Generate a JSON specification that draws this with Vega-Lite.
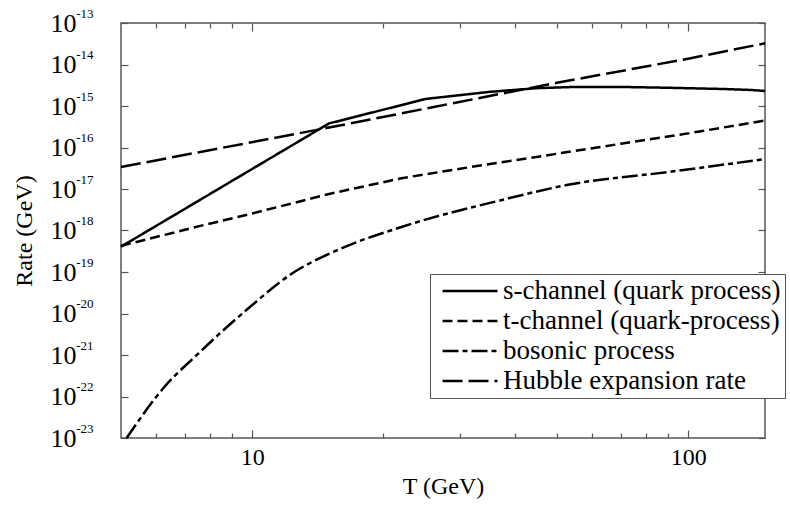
{
  "$schema": "https://vega.github.io/schema/vega-lite/v6.json",
  "width": 644,
  "height": 415,
  "autosize": {"type": "none"},
  "padding": {"left": 121, "top": 23, "right": 25, "bottom": 68},
  "background": "white",
  "config": {
    "font": "Liberation Serif",
    "view": {"stroke": "#555", "strokeWidth": 1.5},
    "axis": {
      "grid": false, "domain": false, "tickColor": "#555", "tickWidth": 1.2,
      "labelColor": "black", "titleColor": "black", "titleFontWeight": "normal",
      "labelFontSize": 24, "titleFontSize": 24,
      "labelFont": "Liberation Serif", "titleFont": "Liberation Serif"
    },
    "legend": {
      "orient": "none", "legendX": 309, "legendY": 251,
      "symbolType": "stroke", "symbolSize": 3025, "symbolStrokeWidth": 2.5,
      "symbolStrokeColor": "black", "labelFontSize": 27, "labelFont": "Liberation Serif",
      "labelColor": "black", "labelLimit": 600, "fillColor": "white", "strokeColor": "#555",
      "padding": 4, "symbolOffset": 7, "rowPadding": 3, "labelOffset": 4, "clipHeight": 26
    }
  },
  "data": {"values": [
    {"T": 5, "rate": 4.07e-19, "process": "s-channel (quark process)"},
    {"T": 15, "rate": 3.80e-16, "process": "s-channel (quark process)"},
    {"T": 25, "rate": 1.48e-15, "process": "s-channel (quark process)"},
    {"T": 35, "rate": 2.19e-15, "process": "s-channel (quark process)"},
    {"T": 45, "rate": 2.69e-15, "process": "s-channel (quark process)"},
    {"T": 55, "rate": 2.88e-15, "process": "s-channel (quark process)"},
    {"T": 70, "rate": 2.88e-15, "process": "s-channel (quark process)"},
    {"T": 90, "rate": 2.75e-15, "process": "s-channel (quark process)"},
    {"T": 120, "rate": 2.57e-15, "process": "s-channel (quark process)"},
    {"T": 140, "rate": 2.43e-15, "process": "s-channel (quark process)"},
    {"T": 150, "rate": 2.29e-15, "process": "s-channel (quark process)"},
    {"T": 5, "rate": 4.27e-19, "process": "t-channel (quark-process)"},
    {"T": 7.6, "rate": 1.29e-18, "process": "t-channel (quark-process)"},
    {"T": 10, "rate": 2.57e-18, "process": "t-channel (quark-process)"},
    {"T": 15, "rate": 7.59e-18, "process": "t-channel (quark-process)"},
    {"T": 22, "rate": 1.82e-17, "process": "t-channel (quark-process)"},
    {"T": 30, "rate": 3.09e-17, "process": "t-channel (quark-process)"},
    {"T": 50, "rate": 7.08e-17, "process": "t-channel (quark-process)"},
    {"T": 70, "rate": 1.23e-16, "process": "t-channel (quark-process)"},
    {"T": 100, "rate": 2.19e-16, "process": "t-channel (quark-process)"},
    {"T": 150, "rate": 4.47e-16, "process": "t-channel (quark-process)"},
    {"T": 5.15, "rate": 1.0e-23, "process": "bosonic process"},
    {"T": 6.25, "rate": 1.58e-22, "process": "bosonic process"},
    {"T": 7.6, "rate": 1.20e-21, "process": "bosonic process"},
    {"T": 8.5, "rate": 3.6e-21, "process": "bosonic process"},
    {"T": 10, "rate": 1.6e-20, "process": "bosonic process"},
    {"T": 12.2, "rate": 8.51e-20, "process": "bosonic process"},
    {"T": 15.7, "rate": 3.39e-19, "process": "bosonic process"},
    {"T": 21.9, "rate": 1.20e-18, "process": "bosonic process"},
    {"T": 37.2, "rate": 5.37e-18, "process": "bosonic process"},
    {"T": 53, "rate": 1.26e-17, "process": "bosonic process"},
    {"T": 90, "rate": 2.57e-17, "process": "bosonic process"},
    {"T": 150, "rate": 5.25e-17, "process": "bosonic process"},
    {"T": 5, "rate": 3.39e-17, "process": "Hubble expansion rate"},
    {"T": 15, "rate": 3.02e-16, "process": "Hubble expansion rate"},
    {"T": 50, "rate": 3.63e-15, "process": "Hubble expansion rate"},
    {"T": 100, "rate": 1.38e-14, "process": "Hubble expansion rate"},
    {"T": 150, "rate": 3.24e-14, "process": "Hubble expansion rate"}
  ]},
  "layer": [
    {
      "transform": [{"filter": "datum.process === 's-channel (quark process)'"}],
      "mark": {"type": "line", "color": "black", "strokeWidth": 2.5},
      "encoding": {
        "x": {"field": "T", "type": "quantitative",
          "scale": {"type": "log", "domain": [5, 150], "nice": false},
          "axis": {"orient": "bottom", "values": [10, 100], "tickSize": -8, "labelPadding": 15, "format": "d", "title": "T (GeV)", "titlePadding": 5, "labelFlush": false}},
        "y": {"field": "rate", "type": "quantitative",
          "scale": {"type": "log", "domain": [1e-23, 1e-13], "nice": false},
          "axis": {"orient": "left", "values": [1e-23, 1e-22, 1e-21, 1e-20, 1e-19, 1e-18, 1e-17, 1e-16, 1e-15, 1e-14, 1e-13],
            "tickSize": -7, "labelPadding": 52, "labelFontSize": 26, "labelFlush": false, "title": "Rate (GeV)", "titlePadding": 14,
            "labelExpr": "'10'"}},
        "strokeDash": {"field": "process", "type": "nominal",
          "scale": {"domain": ["s-channel (quark process)", "t-channel (quark-process)", "bosonic process", "Hubble expansion rate"],
            "range": [[1, 0], [10, 5], [16, 4, 5, 4], [20, 6]]},
          "legend": {"title": null}}
      }
    },
    {
      "transform": [{"filter": "datum.process === 't-channel (quark-process)'"}],
      "mark": {"type": "line", "color": "black", "strokeWidth": 2.5},
      "encoding": {
        "x": {"field": "T", "type": "quantitative",
          "axis": {"orient": "bottom", "values": [6, 7, 8, 9, 20, 30, 40, 50, 60, 70, 80, 90], "tickSize": -5, "labels": false, "title": null}},
        "y": {"field": "rate", "type": "quantitative",
          "axis": {"orient": "right", "values": [1e-23, 1e-22, 1e-21, 1e-20, 1e-19, 1e-18, 1e-17, 1e-16, 1e-15, 1e-14, 1e-13], "tickSize": -7, "labels": false, "title": null}},
        "strokeDash": {"field": "process", "type": "nominal", "legend": {"title": null}}
      }
    },
    {
      "transform": [{"filter": "datum.process === 'bosonic process'"}],
      "mark": {"type": "line", "color": "black", "strokeWidth": 2.5, "interpolate": "monotone"},
      "encoding": {
        "x": {"field": "T", "type": "quantitative",
          "axis": {"orient": "top", "values": [10, 100], "tickSize": -8, "labels": false, "title": null}},
        "y": {"field": "rate", "type": "quantitative",
          "axis": {"orient": "left", "values": [1e-23, 1e-22, 1e-21, 1e-20, 1e-19, 1e-18, 1e-17, 1e-16, 1e-15, 1e-14, 1e-13],
            "tickSize": 0, "labelPadding": 28, "labelFontSize": 13, "labelOffset": -10, "labelFlush": false, "title": null,
            "labelExpr": "'-' + (-round(log(datum.value)/LN10))"}},
        "strokeDash": {"field": "process", "type": "nominal", "legend": {"title": null}}
      }
    },
    {
      "transform": [{"filter": "datum.process === 'Hubble expansion rate'"}],
      "mark": {"type": "line", "color": "black", "strokeWidth": 2.5},
      "encoding": {
        "x": {"field": "T", "type": "quantitative",
          "axis": {"orient": "top", "values": [6, 7, 8, 9, 20, 30, 40, 50, 60, 70, 80, 90], "tickSize": -5, "labels": false, "title": null}},
        "y": {"field": "rate", "type": "quantitative", "axis": null},
        "strokeDash": {"field": "process", "type": "nominal", "legend": {"title": null}}
      }
    }
  ],
  "resolve": {
    "scale": {"x": "shared", "y": "shared", "strokeDash": "shared"},
    "axis": {"x": "independent", "y": "independent"}
  }
}
